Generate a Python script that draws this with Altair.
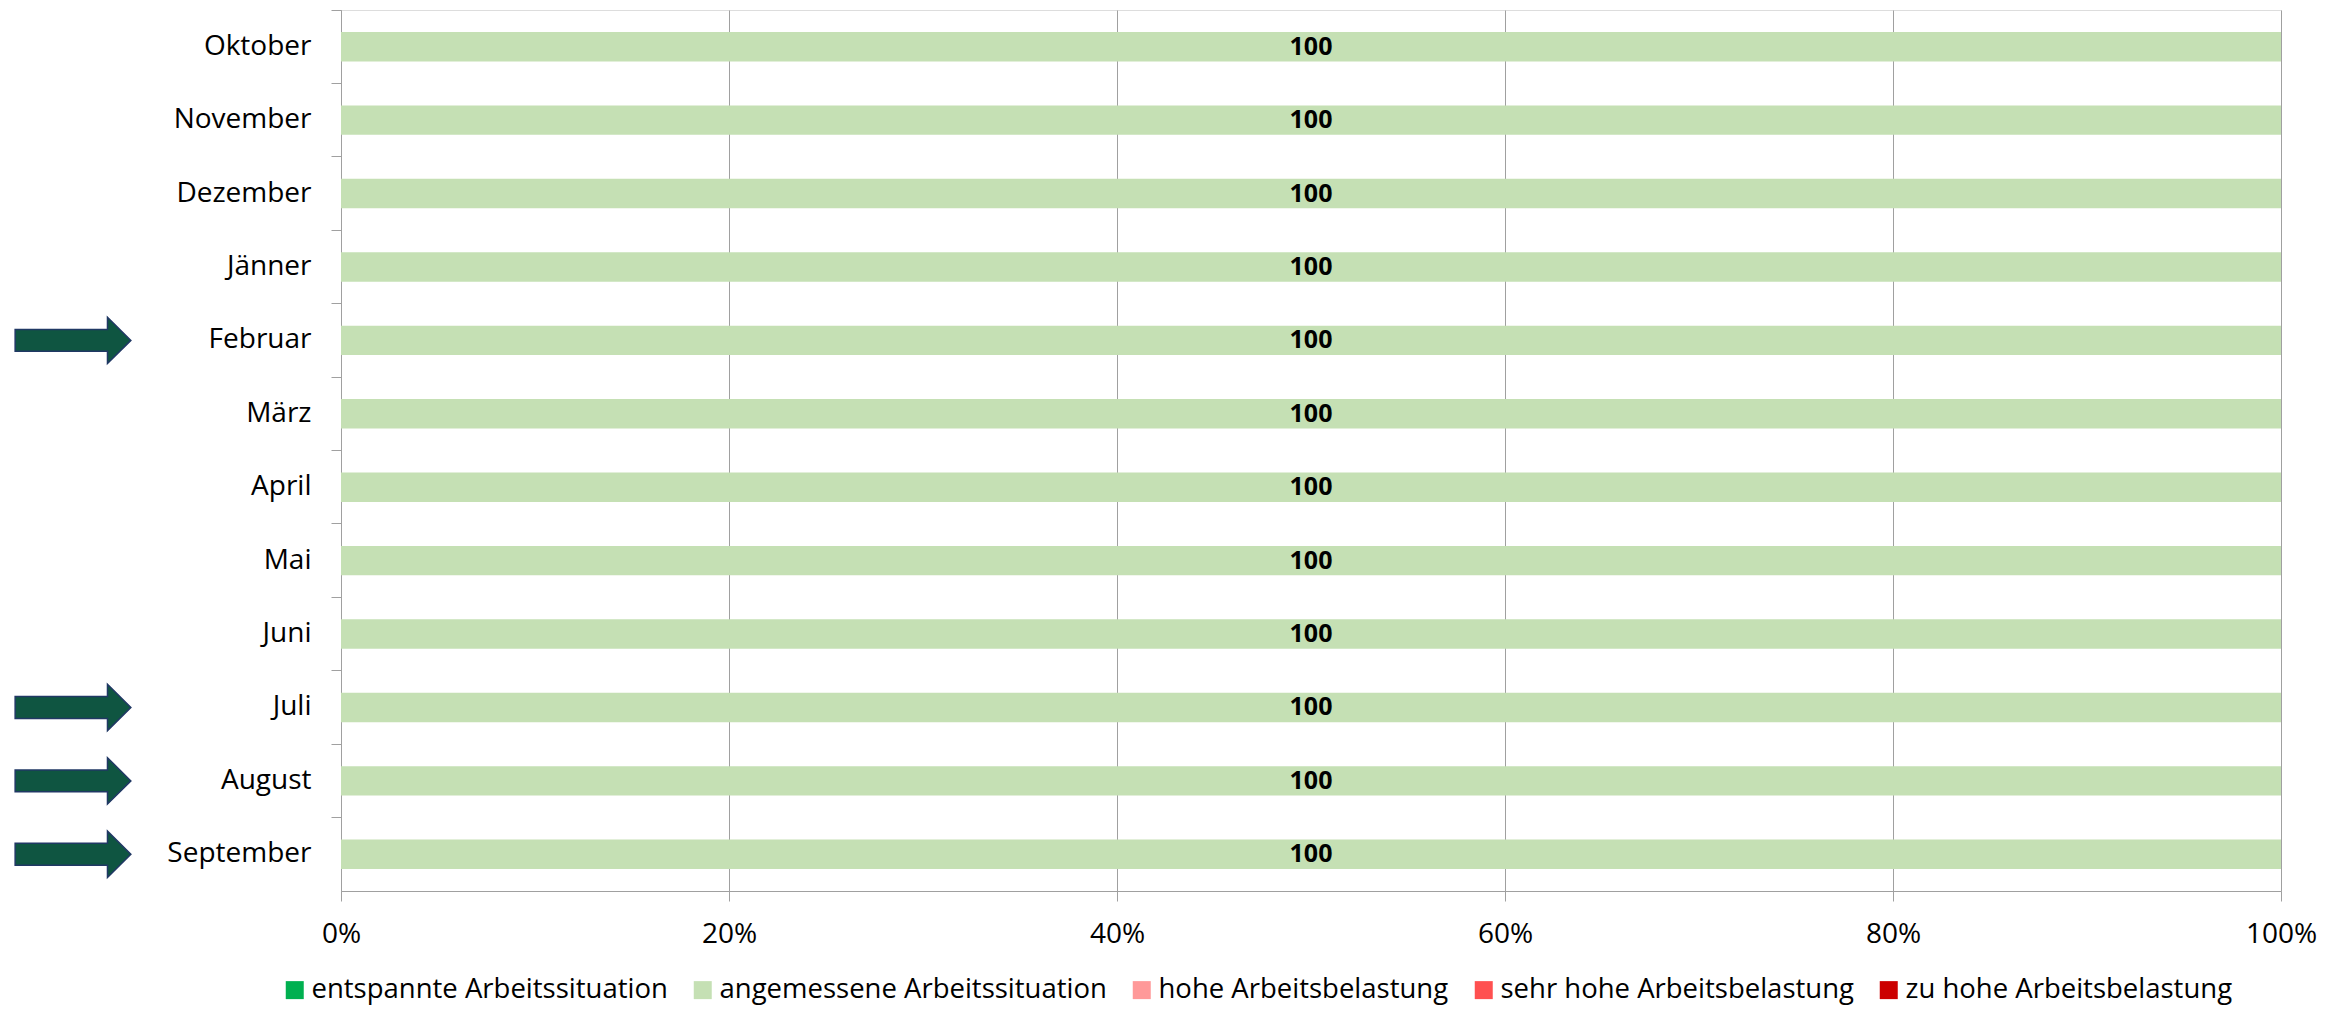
import altair as alt
import pandas as pd

months = ["Oktober", "November", "Dezember", "Jänner", "Februar", "März",
          "April", "Mai", "Juni", "Juli", "August", "September"]

categories = ["entspannte Arbeitssituation", "angemessene Arbeitssituation",
              "hohe Arbeitsbelastung", "sehr hohe Arbeitsbelastung",
              "zu hohe Arbeitsbelastung"]
colors = ["#00B050", "#C5E0B4", "#FF9999", "#FF5050", "#CC0000"]

entspannte = [0, 0, 0, 0, 0, 0, 0, 0, 0, 0, 0, 0]
angemessene = [100, 100, 100, 100, 100, 100, 100, 100, 100, 100, 100, 100]
hohe = [0, 0, 0, 0, 0, 0, 0, 0, 0, 0, 0, 0]
sehr_hohe = [0, 0, 0, 0, 0, 0, 0, 0, 0, 0, 0, 0]
zu_hohe = [0, 0, 0, 0, 0, 0, 0, 0, 0, 0, 0, 0]

arrow_months = ["Februar", "Juli", "August", "September"]

series = [entspannte, angemessene, hohe, sehr_hohe, zu_hohe]
rows = []
for ci, (cat, vals) in enumerate(zip(categories, series)):
    for m, v in zip(months, vals):
        rows.append({"month": m, "category": cat, "value": v, "order": ci})
df = pd.DataFrame(rows)
arrows_df = pd.DataFrame({"month": arrow_months})

FONT = "Open Sans"
GREY = "#A0A0A0"

yenc = alt.Y(
    "month:N", sort=months,
    scale=alt.Scale(paddingInner=0, paddingOuter=0),
    axis=alt.Axis(title=None, labelFontSize=28, labelColor="black", labelFont=FONT,
                  tickSize=10, tickColor=GREY, domainColor=GREY, labelPadding=20,
                  bandPosition=0, grid=False),
)

bars = alt.Chart(df).mark_bar(height={"band": 0.4}).encode(
    y=yenc,
    x=alt.X("value:Q", stack="normalize",
            scale=alt.Scale(domain=[0, 1]),
            axis=alt.Axis(title=None, format=".0%", values=[0, 0.2, 0.4, 0.6, 0.8, 1.0],
                          grid=True, gridColor=GREY, tickSize=10, tickColor=GREY,
                          domainColor=GREY, labelFontSize=28, labelColor="black",
                          labelFont=FONT, labelPadding=19, labelFlush=False)),
    color=alt.Color("category:N", sort=categories,
                    scale=alt.Scale(domain=categories, range=colors),
                    legend=alt.Legend(title=None, orient="none", legendX=-60, legendY=966,
                                      direction="horizontal", columns=5,
                                      symbolType="square", symbolSize=324,
                                      symbolStrokeWidth=0, labelFontSize=27.5,
                                      labelFont=FONT, labelColor="black",
                                      labelLimit=0, columnPadding=21, labelOffset=3,
                                      padding=0)),
    order=alt.Order("order:Q"),
)

labels = alt.Chart(df).transform_stack(
    stack="value", groupby=["month"], as_=["v0", "v1"], offset="normalize",
    sort=[alt.SortField("order", order="ascending")],
).transform_calculate(
    mid="(datum.v0 + datum.v1) / 2"
).transform_filter(
    "datum.value > 0"
).mark_text(font=FONT, fontSize=25, fontWeight="bold", color="black",
            baseline="middle", align="center").encode(
    y=alt.Y("month:N", sort=months),
    x=alt.X("mid:Q"),
    text=alt.Text("value:Q"),
)

arrow_path = "M -1 -0.19 L 0.596 -0.19 L 0.596 -0.40 L 1 0 L 0.596 0.40 L 0.596 0.19 L -1 0.19 Z"
arrows = alt.Chart(arrows_df).mark_point(
    shape=arrow_path, filled=True, fill="#0F5541", stroke="#203864",
    strokeWidth=1.5, opacity=1, size=13386,
).encode(
    y=alt.Y("month:N", sort=months),
    x=alt.value(-268),
)

chart = alt.layer(bars, labels, arrows).properties(
    width=1940, height=881,
    autosize=alt.AutoSizeParams(type="none"),
    padding={"left": 333, "top": 2, "right": 56, "bottom": 114},
).configure_view(stroke=None).configure(font=FONT)

chart.save("out.html", embed_options={"renderer": "svg", "actions": False})
